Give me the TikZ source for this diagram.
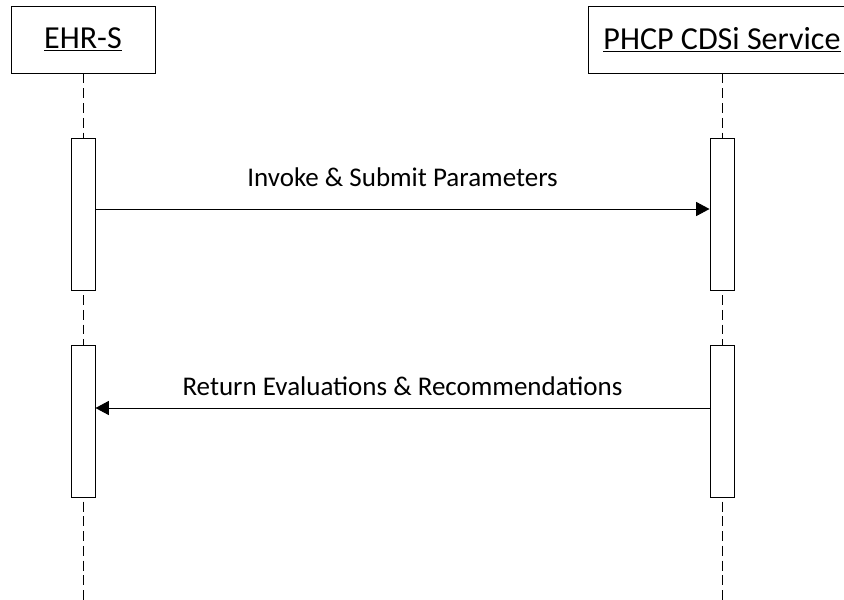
\documentclass[tikz,border=0pt]{standalone}
\usepackage{fontspec}
\setmainfont{Carlito}
\usetikzlibrary{arrows.meta}

\tikzset{
  actor/.style={draw, line width=0.7pt, minimum height=1.675cm, font=\fontsize{22.8}{27}\selectfont},
  bar/.style={draw, fill=white, line width=0.7pt, minimum width=0.6cm, minimum height=3.8cm},
  life/.style={line width=0.7pt, dash pattern=on 7pt off 3.5pt},
  msg/.style={line width=0.7pt, -{Triangle[length=9.5pt,width=10pt]}},
  lbl/.style={font=\fontsize{19.2}{23}\selectfont, anchor=base}
}

\begin{document}
\begin{tikzpicture}
\clip (0,0) rectangle (21.1,-14.975);
% the two participants
\node[actor, minimum width=3.6cm] (ehr) at (2.075,-0.99) {\underline{EHR-S}};
\node[actor, minimum width=6.7cm] (phcp) at (18.05,-0.99) {\underline{PHCP CDSi Service}};
\coordinate (ehrEnd) at (2.075,-15.2);
\coordinate (phcpEnd) at (18.05,-15.2);
\draw[life] (ehr) -- (ehrEnd);
\draw[life] (phcp) -- (phcpEnd);
% activations
\node[bar] (ehrA) at (2.075,-5.35) {};
\node[bar] (phcpA) at (18.05,-5.35) {};
\node[bar] (ehrB) at (2.075,-10.525) {};
\node[bar] (phcpB) at (18.05,-10.525) {};
% messages
\draw[msg] ([yshift=0.125cm]ehrA.east) -- ([yshift=0.125cm]phcpA.west) node[midway, lbl, yshift=0.575cm] {Invoke \& Submit Parameters};
\draw[msg] ([yshift=0.325cm]phcpB.west) -- ([yshift=0.325cm]ehrB.east) node[midway, lbl, yshift=0.325cm] {Return Evaluations \& Recommendations};
\end{tikzpicture}
\end{document}
